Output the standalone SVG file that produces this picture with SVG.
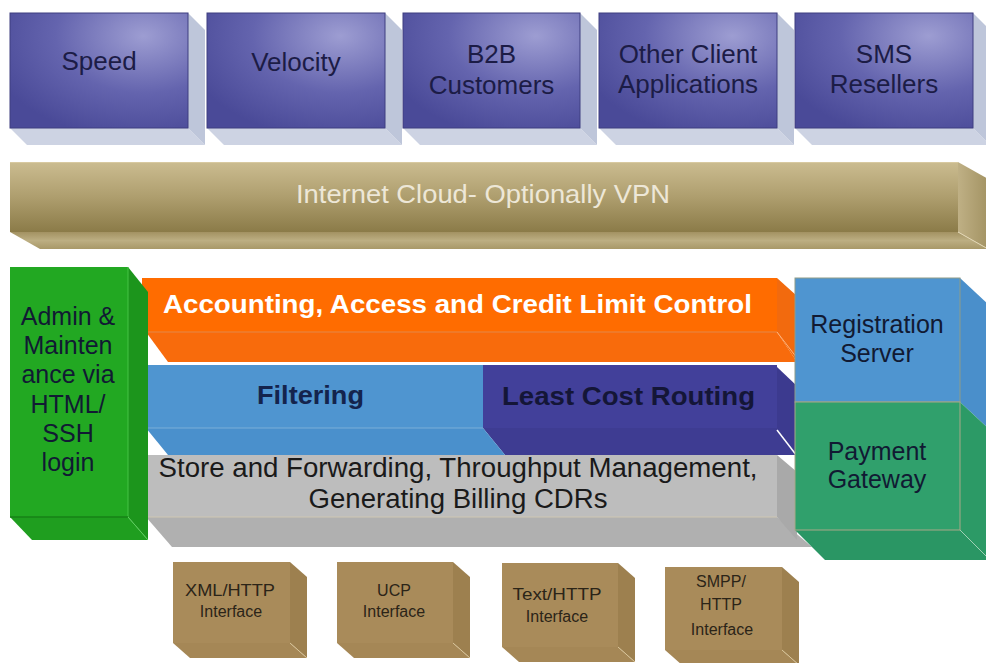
<svg xmlns="http://www.w3.org/2000/svg" width="986" height="663" viewBox="0 0 986 663">
<defs>
<radialGradient id="gPurple" cx="0.75" cy="0.2" r="0.9">
<stop offset="0" stop-color="#9d9dd2"/>
<stop offset="0.55" stop-color="#6464ae"/>
<stop offset="1" stop-color="#4a4a98"/>
</radialGradient>
<linearGradient id="gTan" x1="0" y1="0" x2="0" y2="1">
<stop offset="0" stop-color="#cbbc90"/>
<stop offset="0.5" stop-color="#ae9e6e"/>
<stop offset="1" stop-color="#8b7b48"/>
</linearGradient>
<linearGradient id="gTanB" x1="0" y1="0" x2="0" y2="1">
<stop offset="0" stop-color="#a39262"/>
<stop offset="0.5" stop-color="#bcae82"/>
<stop offset="1" stop-color="#a89868"/>
</linearGradient>
<linearGradient id="gTanR" x1="0" y1="0" x2="1" y2="0">
<stop offset="0" stop-color="#bfb085"/>
<stop offset="1" stop-color="#a39363"/>
</linearGradient>
</defs>
<style>
.t{font-family:"Liberation Sans",Arial,sans-serif;text-anchor:middle}
.top{font-size:26px;fill:#1c1c46}
.ptop{fill:url(#gPurple);stroke:#3e3e80;stroke-width:1}
.pbot{fill:#cdd3e3}
.pright{fill:#bec6da}
.band{font-size:27px;fill:#1a1a1a}
.bold{font-weight:bold;font-size:26px}
.side{font-size:25px;fill:#111a33}
.cube{fill:#a98b5a}
.cubeR{fill:#9d804f}
.cubeB{fill:#a58756}
.cubeE{fill:none;stroke:#d9c59a;stroke-width:1}
.ct{font-size:16px;fill:#2b2418}
</style>
<rect width="986" height="663" fill="#ffffff"/>

<g id="speed">
<polygon class="pbot" points="10,128 188,128 205,145 27,145"/>
<polygon class="pright" points="188,13 205,30 205,145 188,128"/>
<rect class="ptop" x="10" y="13" width="178" height="115"/>
<text class="t top" x="99" y="70">Speed</text>
</g>
<g id="velocity">
<polygon class="pbot" points="207,128 385,128 402,145 224,145"/>
<polygon class="pright" points="385,13 402,30 402,145 385,128"/>
<rect class="ptop" x="207" y="13" width="178" height="115"/>
<text class="t top" x="296" y="71">Velocity</text>
</g>
<g id="b2b">
<polygon class="pbot" points="403,128 580,128 597,145 420,145"/>
<polygon class="pright" points="580,13 597,30 597,145 580,128"/>
<rect class="ptop" x="403" y="13" width="177" height="115"/>
<text class="t top" x="491.5" y="63">B2B</text>
<text class="t top" x="491.5" y="94">Customers</text>
</g>
<g id="other-client">
<polygon class="pbot" points="599,128 777,128 794,145 616,145"/>
<polygon class="pright" points="777,13 794,30 794,145 777,128"/>
<rect class="ptop" x="599" y="13" width="178" height="115"/>
<text class="t top" x="688" y="63">Other Client</text>
<text class="t top" x="688" y="93">Applications</text>
</g>
<g id="sms-resellers">
<polygon class="pbot" points="795,128 973,128 990,145 812,145"/>
<polygon class="pright" points="973,13 990,30 990,145 973,128"/>
<rect class="ptop" x="795" y="13" width="178" height="115"/>
<text class="t top" x="884" y="63">SMS</text>
<text class="t top" x="884" y="93">Resellers</text>
</g>

<g id="internet-cloud">
<polygon points="10,232 958,232 988,249 40,249" fill="url(#gTanB)"/>
<polygon points="958,162 988,179 988,249 958,232" fill="url(#gTanR)"/>
<rect x="10" y="162" width="948" height="70" fill="url(#gTan)"/>
<line x1="10" y1="162.5" x2="958" y2="162.5" stroke="#d8c9a0" stroke-width="1"/>
<line x1="958" y1="232" x2="988" y2="249" stroke="#e2d6b4" stroke-width="1"/>
<text class="t" x="483" y="203" font-size="25" fill="#ede7d7" textLength="374" lengthAdjust="spacingAndGlyphs">Internet Cloud- Optionally VPN</text>
</g>

<g id="store-forward">
<polygon points="146,517 777,517 812,547 172,547" fill="#b0b0b0"/>
<polygon points="777,455 797,472 797,540 777,517" fill="#a9a9a9"/>
<rect x="142" y="455" width="635" height="62" fill="#bdbdbd"/>
<line x1="142" y1="517" x2="777" y2="517" stroke="#cfc7b2" stroke-width="1"/>
<text class="t band" x="458" y="477" textLength="599" lengthAdjust="spacingAndGlyphs">Store and Forwarding, Throughput Management,</text>
<text class="t band" x="458" y="508" textLength="299" lengthAdjust="spacingAndGlyphs">Generating Billing CDRs</text>
</g>

<g id="lcr">
<polygon points="483,428 777,428 797,455 505,455" fill="#3e3c92"/>
<polygon points="777,367 797,386 797,458 777,430" fill="#3c3a8f"/>
<rect x="483" y="365" width="294" height="63" fill="#42409a"/>
<line x1="777" y1="430" x2="797" y2="456" stroke="#ffffff" stroke-width="1.5"/>
<text class="t bold" x="628.5" y="405" fill="#141637" textLength="253" lengthAdjust="spacingAndGlyphs">Least Cost Routing</text>
</g>

<g id="filtering">
<polygon points="146,428 483,428 505,455 168,455" fill="#4a90cc"/>
<rect x="142" y="365" width="341" height="63" fill="#4f95d0"/>
<line x1="142" y1="428" x2="483" y2="428" stroke="#7aaed8" stroke-width="1"/>
<text class="t bold" x="310.5" y="404" fill="#14244d" textLength="107" lengthAdjust="spacingAndGlyphs">Filtering</text>
</g>

<g id="accounting">
<polygon points="146,332 777,332 797,362 168,362" fill="#f86b0c"/>
<polygon points="777,278 797,296 797,362 777,332" fill="#f26a0e"/>
<rect x="142" y="278" width="635" height="54" fill="#ff6c00"/>
<line x1="142" y1="332" x2="777" y2="332" stroke="#e2884a" stroke-width="1"/>
<line x1="777" y1="332" x2="797" y2="358" stroke="#ffb27a" stroke-width="1"/>
<text class="t bold" x="457.5" y="313" fill="#ffffff" textLength="589" lengthAdjust="spacingAndGlyphs">Accounting, Access and Credit Limit Control</text>
</g>

<g id="admin">
<polygon points="10,517 128,517 148,540 32,540" fill="#1f9e1f"/>
<polygon points="128,267 148,292 148,540 128,517" fill="#1c951c"/>
<rect x="10" y="267" width="118" height="250" fill="#22a822"/>
<line x1="128" y1="267" x2="128" y2="517" stroke="#45c445" stroke-width="1"/>
<line x1="10" y1="517" x2="128" y2="517" stroke="#178217" stroke-width="1.5"/>
<line x1="128" y1="517" x2="148" y2="540" stroke="#5ed05e" stroke-width="1"/>
<text class="t side" x="68" y="325" fill="#0e1a0e">Admin &amp;</text>
<text class="t side" x="68" y="354" fill="#0e1a0e">Mainten</text>
<text class="t side" x="68" y="383" fill="#0e1a0e">ance via</text>
<text class="t side" x="68" y="413" fill="#0e1a0e">HTML/</text>
<text class="t side" x="68" y="442" fill="#0e1a0e">SSH</text>
<text class="t side" x="68" y="471" fill="#0e1a0e">login</text>
</g>

<g id="registration">
<polygon points="960,278 990,306 990,430 960,402" fill="#4a8fcb"/>
<rect x="795" y="278" width="165" height="124" fill="#4f95d0" stroke="#8f9c88" stroke-width="1"/>
<text class="t side" x="877" y="333">Registration</text>
<text class="t side" x="877" y="362">Server</text>
</g>
<g id="payment">
<polygon points="960,402 990,430 990,560 960,530" fill="#2c9a66"/>
<polygon points="795,530 960,530 990,560 825,560" fill="#2a9664"/>
<rect x="795" y="402" width="165" height="128" fill="#30a06c" stroke="#a8a888" stroke-width="1"/>
<line x1="960" y1="530" x2="990" y2="560" stroke="#9fd0b4" stroke-width="1"/>
<text class="t side" x="877" y="460" fill="#0e2418">Payment</text>
<text class="t side" x="877" y="488" fill="#0e2418">Gateway</text>
</g>

<g id="xml-http">
<polygon class="cubeB" points="173,643 290,643 307,658 190,658"/>
<polygon class="cubeR" points="290,562 307,577 307,658 290,643"/>
<rect class="cube" x="173" y="562" width="117" height="81"/>
<line class="cubeE" x1="290" y1="643" x2="307" y2="658"/>
<text class="t ct" x="230" y="596" textLength="90" lengthAdjust="spacingAndGlyphs">XML/HTTP</text>
<text class="t ct" x="231" y="617">Interface</text>
</g>
<g id="ucp">
<polygon class="cubeB" points="337,643 453,643 470,658 354,658"/>
<polygon class="cubeR" points="453,562 470,577 470,658 453,643"/>
<rect class="cube" x="337" y="562" width="116" height="81"/>
<line class="cubeE" x1="453" y1="643" x2="470" y2="658"/>
<text class="t ct" x="394" y="596">UCP</text>
<text class="t ct" x="394" y="617">Interface</text>
</g>
<g id="text-http">
<polygon class="cubeB" points="502,647 618,647 635,662 519,662"/>
<polygon class="cubeR" points="618,563 635,578 635,662 618,647"/>
<rect class="cube" x="502" y="563" width="116" height="84"/>
<line class="cubeE" x1="618" y1="647" x2="635" y2="662"/>
<text class="t ct" x="557" y="600" textLength="89" lengthAdjust="spacingAndGlyphs">Text/HTTP</text>
<text class="t ct" x="557" y="622">Interface</text>
</g>
<g id="smpp-http">
<polygon class="cubeB" points="665,650 782,650 799,665 682,665"/>
<polygon class="cubeR" points="782,567 799,582 799,665 782,650"/>
<rect class="cube" x="665" y="567" width="117" height="83"/>
<line class="cubeE" x1="782" y1="650" x2="799" y2="665"/>
<text class="t ct" x="721" y="587">SMPP/</text>
<text class="t ct" x="721" y="610">HTTP</text>
<text class="t ct" x="722" y="635">Interface</text>
</g>

<g id="connectors"></g>
</svg>
